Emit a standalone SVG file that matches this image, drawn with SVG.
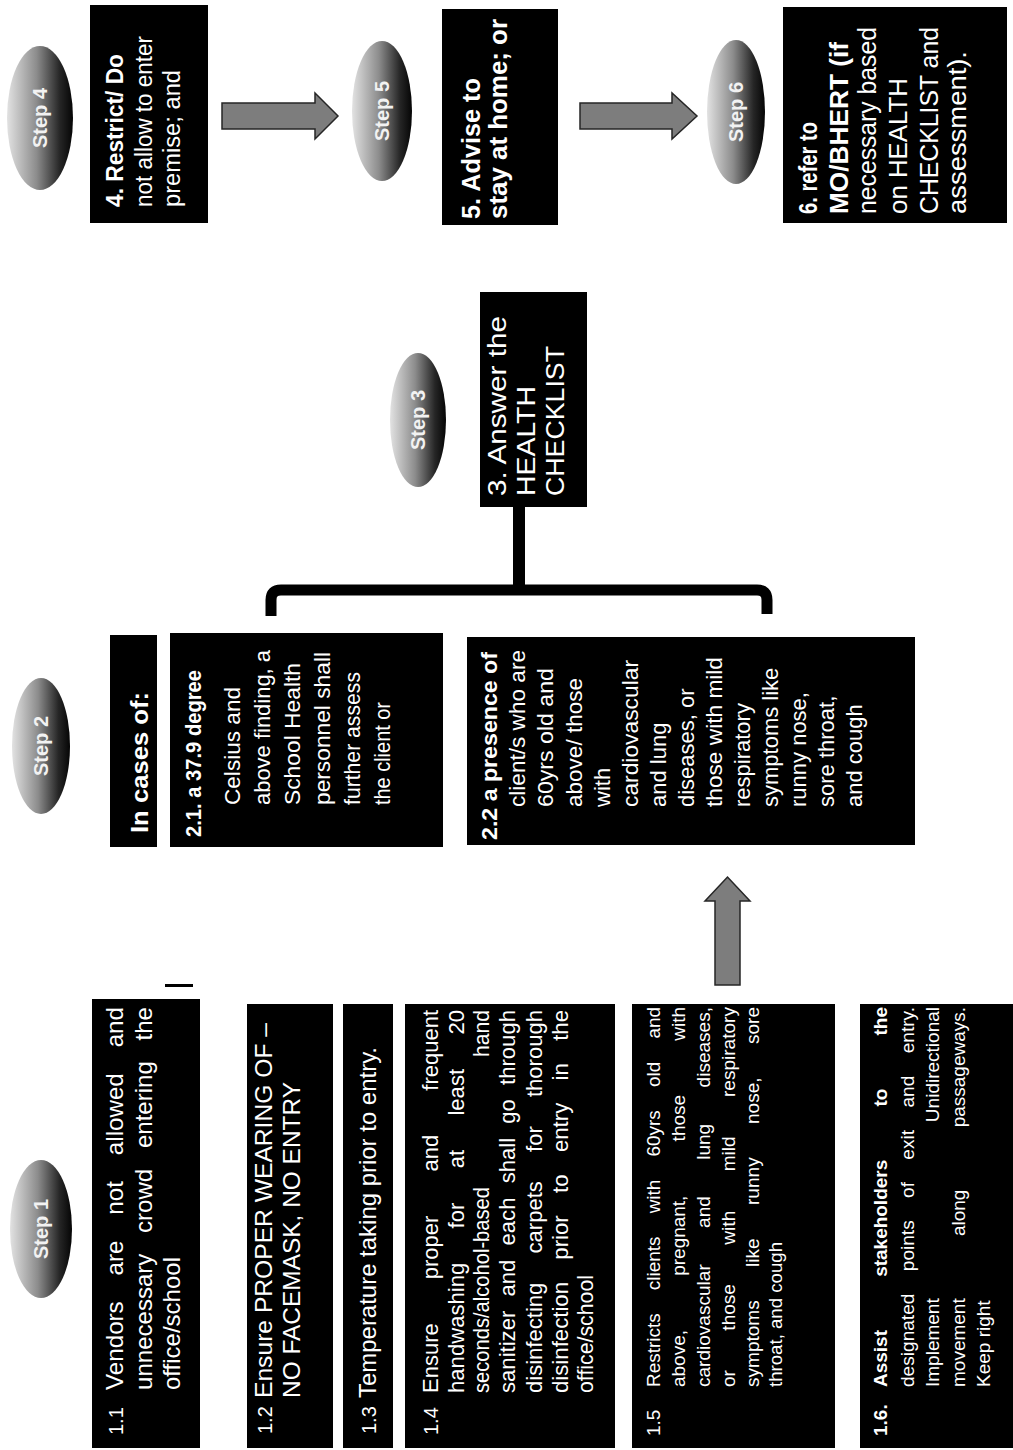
<svg xmlns="http://www.w3.org/2000/svg" width="1013" height="1450" viewBox="0 0 1013 1450">
<defs>
<style>
.box{fill:#000}
.t{fill:#fff;font-family:"Liberation Sans",Arial,sans-serif}
.b{font-weight:bold}
.stp{font-family:"Liberation Sans",Arial,sans-serif;font-weight:bold;font-size:20px;fill:#f2f2f2;text-anchor:middle}
.arr{fill:#7d7d7d;stroke:#262626;stroke-width:1.5}
</style>
<linearGradient id="eg" x1="0" y1="0" x2="0" y2="1">
<stop offset="0" stop-color="#e2e2e2"/>
<stop offset="0.45" stop-color="#8c8c8c"/>
<stop offset="0.8" stop-color="#262626"/>
<stop offset="1" stop-color="#050505"/>
</linearGradient>
</defs>
<rect width="1013" height="1450" fill="#fff"/>
<g transform="translate(0,1450) rotate(-90)">

<g id="step1"><ellipse cx="221" cy="41" rx="69" ry="31" fill="url(#eg)"/><text class="stp" x="221" y="48">Step 1</text></g>
<g id="step2"><ellipse cx="704" cy="41" rx="68" ry="29" fill="url(#eg)"/><text class="stp" x="704" y="48">Step 2</text></g>
<g id="step3"><ellipse cx="1030" cy="418" rx="67" ry="28" fill="url(#eg)"/><text class="stp" x="1030" y="425">Step 3</text></g>
<g id="step4"><ellipse cx="1332" cy="40" rx="72" ry="33" fill="url(#eg)"/><text class="stp" x="1332" y="47">Step 4</text></g>
<g id="step5"><ellipse cx="1339" cy="382" rx="70" ry="30" fill="url(#eg)"/><text class="stp" x="1339" y="389">Step 5</text></g>
<g id="step6"><ellipse cx="1338" cy="736" rx="72" ry="29" fill="url(#eg)"/><text class="stp" x="1338" y="743">Step 6</text></g>

<g id="box1_1" font-size="24">
<rect class="box" x="2" y="92" width="449" height="108"/>
<text class="t" x="15" y="123" font-size="20">1.1</text>
<text class="t" x="60" y="123" word-spacing="19" textLength="383" lengthAdjust="spacingAndGlyphs">Vendors are not allowed and</text>
<text class="t" x="60" y="152" word-spacing="14" textLength="383" lengthAdjust="spacingAndGlyphs">unnecessary crowd entering the</text>
<text class="t" x="60" y="180" textLength="133" lengthAdjust="spacingAndGlyphs">office/school</text>
</g>

<g id="box1_2" font-size="24">
<rect class="box" x="2" y="247" width="444" height="86"/>
<text class="t" x="16" y="272" font-size="20">1.2</text>
<text class="t" x="52" y="272" textLength="375" lengthAdjust="spacingAndGlyphs">Ensure PROPER WEARING OF –</text>
<text class="t" x="52" y="300" textLength="316" lengthAdjust="spacingAndGlyphs">NO FACEMASK, NO ENTRY</text>
</g>

<g id="box1_3" font-size="24">
<rect class="box" x="2" y="343" width="444" height="50"/>
<text class="t" x="16" y="376" font-size="20">1.3</text>
<text class="t" x="52" y="376" textLength="351" lengthAdjust="spacingAndGlyphs">Temperature taking prior to entry.</text>
</g>

<g id="box1_4" font-size="22">
<rect class="box" x="2" y="405" width="444" height="210"/>
<text class="t" x="15" y="438" font-size="20">1.4</text>
<text class="t" x="57" y="438" word-spacing="38" textLength="383" lengthAdjust="spacingAndGlyphs">Ensure proper and frequent</text>
<text class="t" x="57" y="464" word-spacing="28" textLength="383" lengthAdjust="spacingAndGlyphs">handwashing for at least 20</text>
<text class="t" x="57" y="489" textLength="206" lengthAdjust="spacingAndGlyphs">seconds/alcohol-based</text>
<text class="t" x="393" y="489" textLength="47" lengthAdjust="spacingAndGlyphs">hand</text>
<text class="t" x="57" y="515" word-spacing="8" textLength="383" lengthAdjust="spacingAndGlyphs">sanitizer and each shall go through</text>
<text class="t" x="57" y="542" word-spacing="23" textLength="383" lengthAdjust="spacingAndGlyphs">disinfecting carpets for thorough</text>
<text class="t" x="57" y="568" word-spacing="16" textLength="383" lengthAdjust="spacingAndGlyphs">disinfection prior to entry in the</text>
<text class="t" x="57" y="593" textLength="118" lengthAdjust="spacingAndGlyphs">office/school</text>
</g>

<g id="box1_5" font-size="19">
<rect class="box" x="2" y="632" width="444" height="203"/>
<text class="t" x="14" y="660">1.5</text>
<text class="t" x="63" y="660" word-spacing="18" textLength="380" lengthAdjust="spacingAndGlyphs">Restricts clients with 60yrs old and</text>
<text class="t" x="63" y="685" word-spacing="49" textLength="380" lengthAdjust="spacingAndGlyphs">above, pregnant, those with</text>
<text class="t" x="63" y="710" word-spacing="31" textLength="380" lengthAdjust="spacingAndGlyphs">cardiovascular and lung diseases,</text>
<text class="t" x="63" y="735" word-spacing="34" textLength="380" lengthAdjust="spacingAndGlyphs">or those with mild respiratory</text>
<text class="t" x="63" y="759" word-spacing="28" textLength="380" lengthAdjust="spacingAndGlyphs">symptoms like runny nose, sore</text>
<text class="t" x="63" y="782" textLength="145" lengthAdjust="spacingAndGlyphs">throat, and cough</text>
</g>

<g id="box1_6" font-size="19">
<rect class="box" x="2" y="860" width="444" height="153"/>
<text class="t b" x="14" y="887">1.6.</text>
<text class="t b" x="63" y="887" word-spacing="48" textLength="380" lengthAdjust="spacingAndGlyphs">Assist stakeholders to the</text>
<text class="t" x="63" y="914" word-spacing="17" textLength="380" lengthAdjust="spacingAndGlyphs">designated points of exit and entry.</text>
<text class="t" x="63" y="939">Implement</text>
<text class="t" x="443" y="939" text-anchor="end">Unidirectional</text>
<text class="t" x="63" y="965" word-spacing="57" textLength="380" lengthAdjust="spacingAndGlyphs">movement along passageways.</text>
<text class="t" x="63" y="990">Keep right</text>
</g>

<g id="box2_head">
<rect class="box" x="603" y="110" width="212" height="47"/>
<text class="t b" x="617" y="148" font-size="24" textLength="141" lengthAdjust="spacingAndGlyphs">In cases of:</text>
</g>

<g id="box2_1" font-size="22">
<rect class="box" x="603" y="170" width="214" height="273"/>
<text class="t b" x="613" y="201" textLength="167" lengthAdjust="spacingAndGlyphs">2.1. a 37.9 degree</text>
<text class="t" x="645" y="240" textLength="118" lengthAdjust="spacingAndGlyphs">Celsius and</text>
<text class="t" x="645" y="270" textLength="155" lengthAdjust="spacingAndGlyphs">above finding, a</text>
<text class="t" x="645" y="300" textLength="142" lengthAdjust="spacingAndGlyphs">School Health</text>
<text class="t" x="645" y="330" textLength="153" lengthAdjust="spacingAndGlyphs">personnel shall</text>
<text class="t" x="645" y="360" textLength="133" lengthAdjust="spacingAndGlyphs">further assess</text>
<text class="t" x="645" y="390" textLength="103" lengthAdjust="spacingAndGlyphs">the client or</text>
</g>

<g id="box2_2" font-size="22">
<rect class="box" x="605" y="467" width="208" height="448"/>
<text class="t b" x="610" y="497" textLength="188" lengthAdjust="spacingAndGlyphs">2.2 a presence of</text>
<text class="t" x="643" y="525" textLength="157" lengthAdjust="spacingAndGlyphs">client/s who are</text>
<text class="t" x="643" y="553" textLength="139" lengthAdjust="spacingAndGlyphs">60yrs old and</text>
<text class="t" x="643" y="582" textLength="129" lengthAdjust="spacingAndGlyphs">above/ those</text>
<text class="t" x="643" y="610">with</text>
<text class="t" x="643" y="638" textLength="147" lengthAdjust="spacingAndGlyphs">cardiovascular</text>
<text class="t" x="643" y="666">and lung</text>
<text class="t" x="643" y="694">diseases, or</text>
<text class="t" x="643" y="722" textLength="150" lengthAdjust="spacingAndGlyphs">those with mild</text>
<text class="t" x="643" y="750">respiratory</text>
<text class="t" x="643" y="778">symptoms like</text>
<text class="t" x="643" y="806">runny nose,</text>
<text class="t" x="643" y="834">sore throat,</text>
<text class="t" x="643" y="862">and cough</text>
</g>

<g id="box3" font-size="26">
<rect class="box" x="943" y="480" width="215" height="107"/>
<text class="t" x="954" y="506" textLength="180" lengthAdjust="spacingAndGlyphs">3. Answer the</text>
<text class="t" x="954" y="535" textLength="110" lengthAdjust="spacingAndGlyphs">HEALTH</text>
<text class="t" x="954" y="564" textLength="150" lengthAdjust="spacingAndGlyphs">CHECKLIST</text>
</g>

<g id="box4" font-size="23">
<rect class="box" x="1227" y="90" width="218" height="118"/>
<text class="t b" x="1243" y="123" textLength="153" lengthAdjust="spacingAndGlyphs">4. Restrict/ Do</text>
<text class="t" x="1243" y="152" textLength="171" lengthAdjust="spacingAndGlyphs">not allow to enter</text>
<text class="t" x="1243" y="180" textLength="137" lengthAdjust="spacingAndGlyphs">premise; and</text>
</g>

<g id="box5" font-size="25">
<rect class="box" x="1225" y="442" width="216" height="116"/>
<text class="t b" x="1231" y="480" textLength="141" lengthAdjust="spacingAndGlyphs">5. Advise to</text>
<text class="t b" x="1231" y="507" textLength="200" lengthAdjust="spacingAndGlyphs">stay at home; or</text>
</g>

<g id="box6" font-size="25">
<rect class="box" x="1227" y="783" width="216" height="224"/>
<text class="t b" x="1236" y="817" textLength="92" lengthAdjust="spacingAndGlyphs">6. refer to</text>
<text class="t b" x="1236" y="848" textLength="172" lengthAdjust="spacingAndGlyphs">MO/BHERT (if</text>
<text class="t" x="1236" y="876" textLength="187" lengthAdjust="spacingAndGlyphs">necessary based</text>
<text class="t" x="1236" y="907" textLength="136" lengthAdjust="spacingAndGlyphs">on HEALTH</text>
<text class="t" x="1236" y="938" textLength="187" lengthAdjust="spacingAndGlyphs">CHECKLIST and</text>
<text class="t" x="1236" y="966" textLength="163" lengthAdjust="spacingAndGlyphs">assessment).</text>
</g>

<g id="connectors">
<polygon class="arr" points="1321,222 1347,222 1347,315 1357,315 1334,338 1311,315 1321,315"/>
<polygon class="arr" points="1321,580 1347,580 1347,672 1357,672 1334,697 1311,672 1321,672"/>
<polygon class="arr" points="465,715 549,715 549,705 573,727.5 549,750 549,740 465,740"/>
<rect x="860" y="513" width="83" height="12" fill="#000"/>
<path d="M834 271 L850 271 Q860 271 860 281 L860 757 Q860 767 850 767 L836 767" fill="none" stroke="#000" stroke-width="11"/>
<rect x="463" y="165" width="3" height="28" fill="#000"/>
</g>
</g>
</svg>
